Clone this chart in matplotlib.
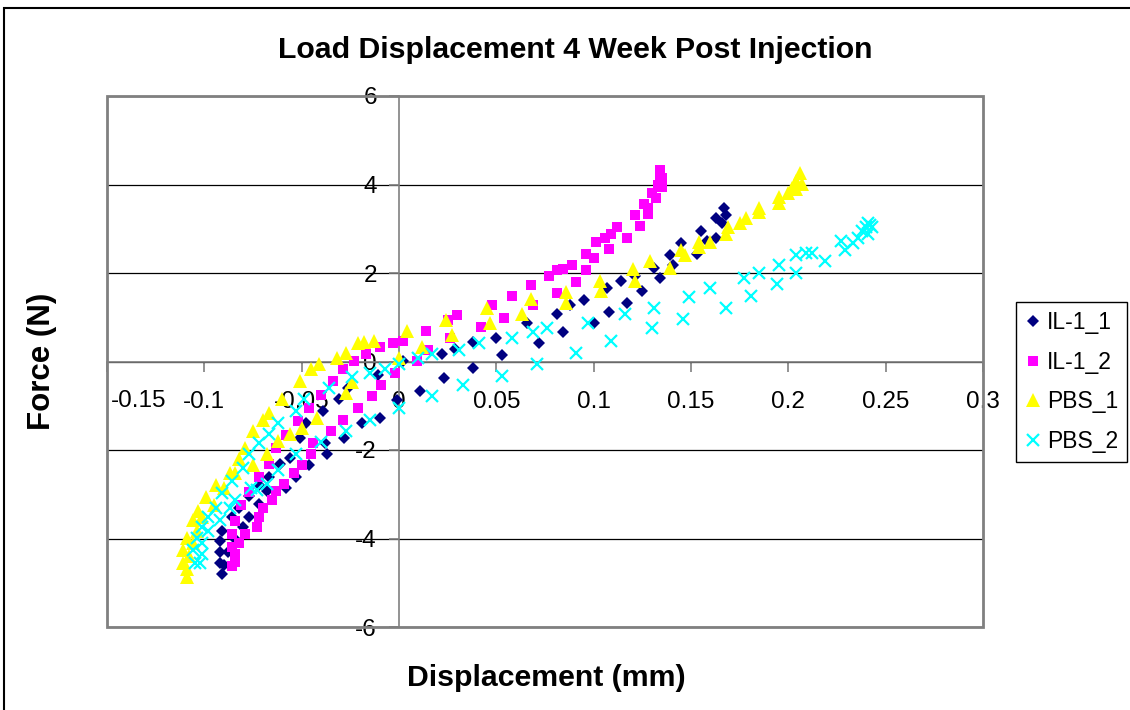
#!/usr/bin/env python3
"""
Load vs displacement loops, 4 weeks post injection (Excel style scatter).
"""

import matplotlib
matplotlib.use('Agg')
import matplotlib.pyplot as plt
from matplotlib.patches import Rectangle
from matplotlib.lines import Line2D

plt.rcParams['font.family'] = ['Liberation Sans', 'DejaVu Sans']

# IL-1_1 (navy diamonds) - loading branch then unloading branch
il1_x = [-0.091, -0.092, -0.092, -0.092, -0.091, -0.086, -0.082, -0.077, -0.072, -0.067,
         -0.061, -0.056, -0.051, -0.048, -0.039, -0.031, -0.026, -0.011, 0.002, 0.022,
         0.029, 0.038, 0.050, 0.066, 0.081, 0.088, 0.095, 0.107, 0.114, 0.121,
         0.131, 0.139, 0.145, 0.155, 0.163, 0.167,
         0.168, 0.166, 0.163, 0.158, 0.153, 0.141, 0.134, 0.125, 0.117, 0.108,
         0.100, 0.084, 0.072, 0.053, 0.038, 0.023, 0.011, -0.001, -0.010, -0.019,
         -0.028, -0.038, -0.037, -0.046, -0.053, -0.058, -0.068, -0.072, -0.077, -0.080,
         -0.084, -0.088, -0.090]
il1_y = [-4.80, -4.55, -4.30, -4.05, -3.82, -3.52, -3.30, -3.05, -2.80, -2.62,
         -2.31, -2.17, -1.72, -1.38, -1.11, -0.84, -0.61, -0.30, 0.02, 0.18,
         0.29, 0.43, 0.54, 0.88, 1.08, 1.27, 1.38, 1.65, 1.83, 1.94,
         2.12, 2.40, 2.67, 2.96, 3.25, 3.46,
         3.30, 3.12, 2.80, 2.73, 2.44, 2.17, 1.88, 1.60, 1.33, 1.11,
         0.88, 0.66, 0.41, 0.14, -0.14, -0.38, -0.66, -0.88, -1.27, -1.40,
         -1.72, -1.85, -2.08, -2.35, -2.62, -2.85, -2.92, -3.21, -3.52, -3.75,
         -4.00, -4.30, -4.60]

# IL-1_2 (magenta squares)
il2_x = [-0.086, -0.086, -0.086, -0.084, -0.081, -0.077, -0.072, -0.067, -0.063, -0.058,
         -0.052, -0.046, -0.040, -0.034, -0.029, -0.023, -0.017, -0.010, -0.003, 0.002,
         0.009, 0.015, 0.014, 0.025, 0.030, 0.048, 0.058, 0.068, 0.077, 0.081,
         0.084, 0.089, 0.096, 0.101, 0.106, 0.109, 0.112, 0.121, 0.126, 0.130,
         0.133, 0.134, 0.134,
         0.135, 0.135, 0.132, 0.128, 0.128, 0.124, 0.117, 0.108, 0.100, 0.096,
         0.091, 0.081, 0.069, 0.054, 0.042, 0.026, -0.002, -0.009, -0.014, -0.021,
         -0.029, -0.035, -0.044, -0.045, -0.050, -0.054, -0.059, -0.063, -0.065, -0.070,
         -0.072, -0.073, -0.079, -0.082, -0.084, -0.084]
il2_y = [-4.62, -4.20, -3.90, -3.60, -3.25, -2.95, -2.60, -2.31, -1.95, -1.65,
         -1.35, -1.05, -0.75, -0.45, -0.16, 0.02, 0.18, 0.32, 0.41, 0.47,
         0.02, 0.25, 0.70, 0.93, 1.04, 1.27, 1.49, 1.72, 1.94, 2.06,
         2.10, 2.17, 2.44, 2.69, 2.80, 2.89, 3.03, 3.30, 3.57, 3.80,
         4.00, 4.20, 4.32,
         4.15, 3.95, 3.70, 3.48, 3.34, 3.07, 2.80, 2.55, 2.33, 2.06,
         1.79, 1.54, 1.27, 0.99, 0.77, 0.52, -0.27, -0.54, -0.77, -1.04,
         -1.33, -1.56, -1.85, -2.08, -2.35, -2.53, -2.76, -2.92, -3.14, -3.30,
         -3.52, -3.75, -3.89, -4.11, -4.34, -4.54]

# PBS_1 (yellow triangles)
pbs1_x = [-0.109, -0.111, -0.111, -0.109, -0.106, -0.103, -0.099, -0.094, -0.087, -0.082,
          -0.079, -0.075, -0.070, -0.067, -0.060, -0.051, -0.045, -0.041, -0.032, -0.027,
          -0.021, -0.018, -0.013, 0.004, 0.024, 0.045, 0.068, 0.086, 0.103, 0.120,
          0.129, 0.145, 0.154, 0.160, 0.169, 0.178, 0.185, 0.195, 0.200, 0.202,
          0.204, 0.206,
          0.207, 0.204, 0.195, 0.185, 0.175, 0.168, 0.154, 0.147, 0.139, 0.121,
          0.104, 0.086, 0.063, 0.047, 0.027, 0.012, 0.000, -0.024, -0.027, -0.042,
          -0.050, -0.056, -0.062, -0.068, -0.075, -0.084, -0.090, -0.095, -0.101, -0.104,
          -0.106, -0.108, -0.109]
pbs1_y = [-4.88, -4.56, -4.27, -3.98, -3.59, -3.37, -3.07, -2.80, -2.53, -2.20,
          -1.95, -1.56, -1.33, -1.17, -0.85, -0.43, -0.17, -0.05, 0.09, 0.20,
          0.41, 0.43, 0.47, 0.70, 0.93, 1.20, 1.42, 1.56, 1.83, 2.10,
          2.28, 2.51, 2.69, 2.69, 3.03, 3.25, 3.48, 3.71, 3.80, 3.93,
          4.09, 4.25,
          4.02, 3.90, 3.59, 3.37, 3.14, 2.89, 2.58, 2.40, 2.12, 1.83,
          1.60, 1.33, 1.08, 0.86, 0.59, 0.32, 0.09, -0.47, -0.72, -1.27,
          -1.51, -1.63, -1.79, -2.10, -2.35, -2.53, -2.87, -3.25, -3.52, -3.82,
          -4.10, -4.40, -4.70]

# PBS_2 (cyan crosses)
pbs2_x = [-0.105, -0.106, -0.104, -0.101, -0.098, -0.094, -0.091, -0.086, -0.080, -0.077,
          -0.072, -0.067, -0.062, -0.053, -0.049, -0.036, -0.024, -0.015, -0.007, 0.000,
          0.010, 0.017, 0.031, 0.041, 0.058, 0.069, 0.076, 0.097, 0.116, 0.131,
          0.149, 0.160, 0.177, 0.185, 0.195, 0.204, 0.209, 0.212, 0.227, 0.236,
          0.240, 0.241, 0.242, 0.238,
          0.243, 0.241, 0.233, 0.229, 0.219, 0.204, 0.194, 0.181, 0.168, 0.146,
          0.130, 0.109, 0.091, 0.071, 0.053, 0.033, 0.017, 0.000, -0.015, -0.027,
          -0.040, -0.053, -0.062, -0.068, -0.076, -0.073, -0.084, -0.087, -0.092, -0.098,
          -0.101, -0.101, -0.102]
pbs2_y = [-4.56, -4.25, -3.98, -3.75, -3.52, -3.30, -2.98, -2.69, -2.40, -2.08,
          -1.85, -1.63, -1.40, -1.11, -0.84, -0.61, -0.36, -0.25, -0.16, -0.05,
          0.09, 0.18, 0.25, 0.41, 0.54, 0.66, 0.75, 0.88, 1.08, 1.22,
          1.45, 1.65, 1.88, 2.01, 2.17, 2.40, 2.46, 2.46, 2.73, 2.80,
          3.03, 3.14, 3.08, 2.95,
          3.03, 2.89, 2.67, 2.51, 2.28, 2.01, 1.76, 1.49, 1.22, 0.97,
          0.75, 0.47, 0.20, -0.05, -0.32, -0.54, -0.77, -1.04, -1.33, -1.56,
          -1.83, -2.08, -2.46, -2.76, -2.85, -2.90, -3.14, -3.30, -3.59, -3.82,
          -4.11, -4.34, -4.55]

x_ticks = [-0.15, -0.1, -0.05, 0, 0.05, 0.1, 0.15, 0.2, 0.25, 0.3]
x_tick_labels = ['-0.15', '-0.1', '-0.05', '0', '0.05', '0.1', '0.15', '0.2', '0.25', '0.3']
y_ticks = [-6, -4, -2, 0, 2, 4, 6]
y_tick_labels = ['-6', '-4', '-2', '0', '2', '4', '6']

series = [
    ('IL-1_1', il1_x, il1_y, 'D', 6.5, '#000080'),
    ('IL-1_2', il2_x, il2_y, 's', 7.0, '#FF00FF'),
    ('PBS_1', pbs1_x, pbs1_y, '^', 9.5, '#FFFF00'),
    ('PBS_2', pbs2_x, pbs2_y, 'x', 9.0, '#00FFFF'),
]

fig = plt.figure(figsize=(11.3, 7.1), dpi=100)
ax = fig.add_axes([107 / 1130, 83 / 710, 876 / 1130, 531 / 710])

for name, xs, ys, mk, ms, col in series:
    if mk == 'x':
        ax.plot(xs, ys, ls='none', marker=mk, ms=ms, mew=1.6, color=col, zorder=3)
    else:
        ax.plot(xs, ys, ls='none', marker=mk, ms=ms, mew=0, color=col, zorder=3)

ax.set_xlim(-0.15, 0.3)
ax.set_ylim(-6, 6)
ax.set_xticks(x_ticks)
# Excel pushes the first label inside the chart, so draw it separately
ax.set_xticklabels([''] + x_tick_labels[1:])
ax.annotate(x_tick_labels[0], xy=(x_ticks[0], 0), xycoords='data',
            xytext=(3, -28.5), textcoords='offset points',
            ha='left', va='center', fontsize=17.5)
ax.set_yticks(y_ticks)
ax.set_yticklabels(y_tick_labels)

# axes cross at the origin, Excel style
ax.spines['left'].set_position(('data', 0))
ax.spines['bottom'].set_position(('data', 0))
ax.spines['top'].set_visible(False)
ax.spines['right'].set_visible(False)
for s in ('left', 'bottom'):
    ax.spines[s].set_color('#808080')
    ax.spines[s].set_linewidth(1.2)
ax.tick_params(axis='x', direction='out', length=7, width=1.2, color='#808080',
               labelsize=17.5, pad=14)
ax.tick_params(axis='y', direction='out', length=7, width=1.2, color='#808080',
               labelsize=17.5, pad=9)

ax.yaxis.grid(True, color='black', linewidth=0.9)
ax.set_axisbelow(True)

# plot area border
ax.add_patch(Rectangle((0, 0), 1, 1, transform=ax.transAxes, fill=False,
                       edgecolor='#808080', linewidth=2, clip_on=False, zorder=1))

fig.text(575 / 1130, 1 - 50 / 710, 'Load Displacement 4 Week Post Injection',
         ha='center', va='center', fontsize=21.8, fontweight='bold')
fig.text(546 / 1130, 32 / 710, 'Displacement (mm)', ha='center', va='center',
         fontsize=21.8, fontweight='bold')
fig.text(42 / 1130, 1 - 361 / 710, 'Force (N)', ha='center', va='center',
         fontsize=22.5, fontweight='bold', rotation=90)

handles = []
for name, xs, ys, mk, ms, col in series:
    if mk == 'x':
        h = Line2D([], [], ls='none', marker=mk, ms=9, mew=1.6, color=col)
    else:
        h = Line2D([], [], ls='none', marker=mk, ms=ms, mew=0, color=col)
    handles.append(h)
leg = fig.legend(handles, [s[0] for s in series], loc='upper left',
                 bbox_to_anchor=(1016 / 1130, 1 - 302 / 710), fontsize=16.5,
                 frameon=True, fancybox=False, edgecolor='black', framealpha=1,
                 borderpad=0.4, labelspacing=0.72, handlelength=0.7,
                 handletextpad=0.25, borderaxespad=0)
leg.get_frame().set_linewidth(1.0)

# outer chart border
fig.add_artist(Rectangle((4 / 1130, -0.05), 1.2, 1 - 8 / 710 + 0.05,
                         transform=fig.transFigure, fill=False,
                         edgecolor='black', linewidth=1.5))

fig.savefig('out.png', dpi=100)
